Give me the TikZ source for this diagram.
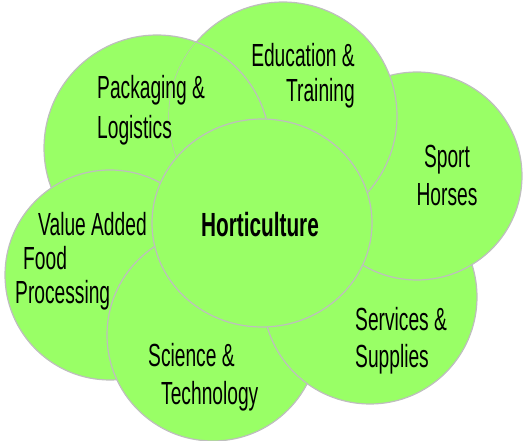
\documentclass[tikz,border=0pt]{standalone}
\usepackage{fontspec}
\setmainfont[FakeStretch=0.6]{Liberation Sans}
\newfontfamily\hortfont[FakeStretch=0.62]{Liberation Sans}
\usetikzlibrary{positioning}

\definecolor{petalgreen}{RGB}{153,255,102}
\definecolor{rimgray}{RGB}{190,190,190}

\begin{document}
\begin{tikzpicture}[
  x=1pt, y=-1pt,
  every node/.style={font=\fontsize{32}{37}\selectfont, inner sep=0pt},
  petal/.style={fill=petalgreen, draw=rimgray, line width=1.2pt},
  label/.style={align=left, anchor=north west}
]
\useasboundingbox (0,0) rectangle (523,441);

% Petal centres
\coordinate (pack) at (157,148);
\coordinate (edu) at (283,116);
\coordinate (sport) at (417,176);
\coordinate (serv) at (370,297);
\coordinate (sci) at (213,335);
\coordinate (val) at (110,275);
\coordinate (hort) at (262,223);

% Petals, each one over the last
\draw[petal] (pack) circle[radius=113];
\draw[petal] (val) circle[radius=105];
\draw[petal] (sci) circle[radius=106];
\draw[petal] (serv) circle[radius=107];
\draw[petal] (sport) circle[x radius=105, y radius=104];
\draw[petal] (edu) circle[radius=114];

% Packaging lies over Education
\begin{scope}
  \clip (edu) circle[radius=114];
  \draw[petal] (pack) circle[radius=113];
\end{scope}

% Centre
\draw[petal] (hort) circle[x radius=110, y radius=104];

% Labels
\node[label, font=\fontsize{32}{40}\selectfont] (packtext) at (97,75) {Packaging \&\\Logistics};
\node[label, align=right, anchor=north east, font=\fontsize{32}{35}\selectfont] (edutext) at (355,43) {Education \&\\Training};
\node[label, align=center, anchor=north, font=\fontsize{32}{38}\selectfont] (sporttext) at (447,145) {Sport\\Horses};
\node[label, font=\fontsize{32}{34}\selectfont] (valtext) at (15,212) {\hspace*{23pt}Value Added\\\hspace*{8pt}Food\\Processing};
\node[label, font=\fontsize{32}{38}\selectfont] (scitext) at (148,343) {Science \&\\\hspace*{13pt}Technology};
\node[label] (servtext) at (355,307) {Services \&\\Supplies};
\node[font=\hortfont\bfseries\fontsize{33.5}{36}\selectfont] (horttext) at (260,225) {Horticulture};

\end{tikzpicture}
\end{document}
